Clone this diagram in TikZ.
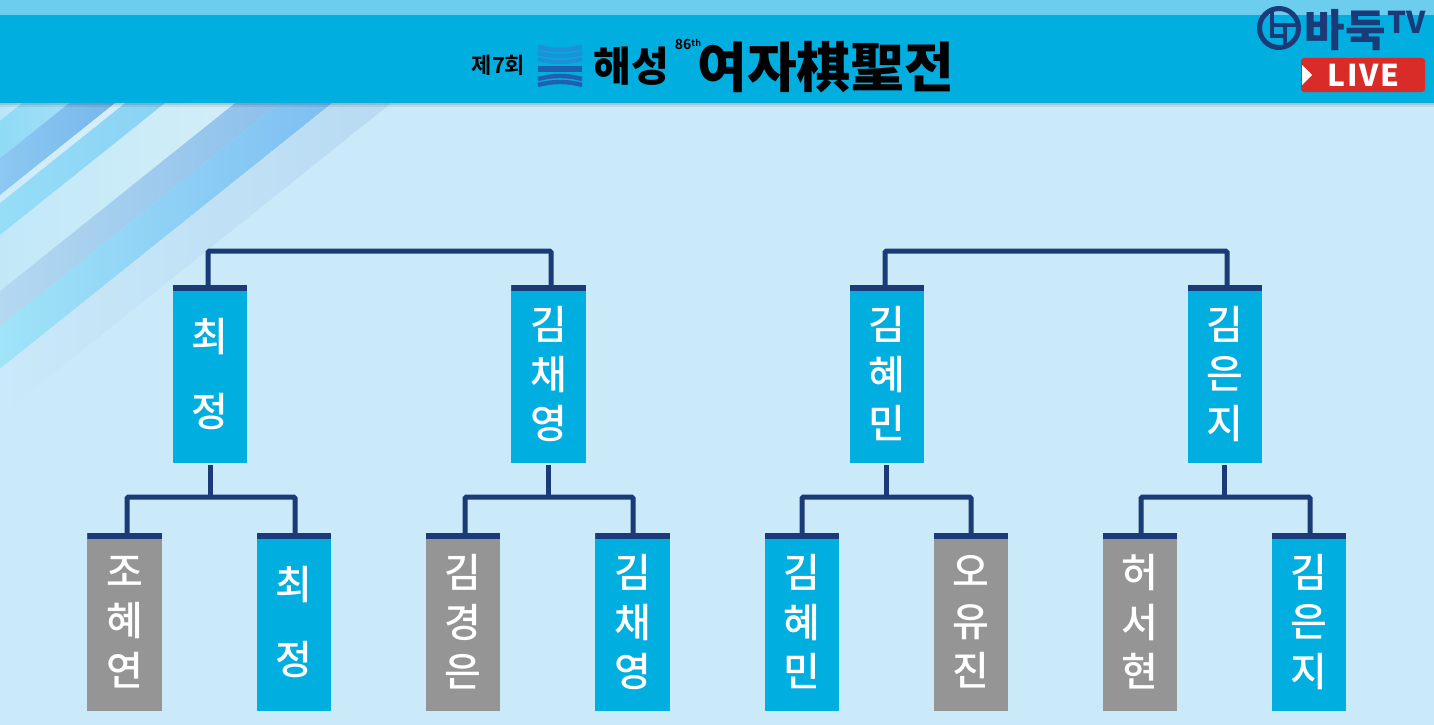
\documentclass[tikz,border=0pt]{standalone}
\usepackage{fontspec}
\setmainfont{Noto Sans CJK KR}
\newfontfamily\krm{Noto Sans CJK KR Medium}
\newfontfamily\krb{Noto Sans CJK KR Black}
\newfontfamily\krbold{Noto Sans CJK KR Bold}
\definecolor{bgc}{HTML}{CAE9F9}
\definecolor{cyanbar}{HTML}{00AEE0}
\definecolor{topband}{HTML}{6CCDEE}
\definecolor{navy}{HTML}{1B3A78}
\definecolor{grayb}{HTML}{959595}
\definecolor{livered}{HTML}{D92B27}
\definecolor{wavelight}{HTML}{1E90D8}
\definecolor{wavedark}{HTML}{1F5FB0}
\tikzset{
  playerbox/.style={minimum width=74.5pt,minimum height=178pt,inner sep=0pt,outer sep=0pt,
    text=white,align=center,
    path picture={\fill[navy] (path picture bounding box.north west) rectangle ([yshift=-5.5pt]path picture bounding box.north east);}},
  won/.style={playerbox,fill=cyanbar},
  lost/.style={playerbox,fill=grayb},
  three/.style={font=\krm\fontsize{40}{49.5}\selectfont},
  two/.style={font=\krm\fontsize{40}{75}\selectfont},
  conn/.style={draw=navy,line width=5pt,rounded corners=1.5pt},
}
\newcommand{\stripe}[4]{\definecolor{sa}{HTML}{#3}\definecolor{sb}{HTML}{#4}\shade[left color=sa,right color=sb] (#1,100) -- (#2,100) -- (0,{100+0.8*#2}) -- (0,{100+0.8*#1}) -- cycle;}
\begin{document}
\begin{tikzpicture}[x=1pt,y=-1pt]
\useasboundingbox (0,0) rectangle (1434,725);
\fill[bgc] (0,0) rectangle (1434,725);
% diagonal stripes
\stripe{0}{26}{B9E6F8}{C9ECF8}
\stripe{26}{73}{8FDAF6}{A5E0F6}
\stripe{73}{119}{8CC8F0}{76B6EC}
\stripe{119}{129}{CDEBF8}{D8EEF8}
\stripe{129}{169}{96DDF7}{8AD2F4}
\stripe{169}{239}{C2E8F8}{D2EEF8}
\stripe{239}{283}{B4D8F0}{8CBFEC}
\stripe{283}{336}{9FE4F8}{7EBDF2}
\stripe{336}{395}{CAE9F9}{B8DAF2}
% header
\fill[black,opacity=.16] (0,103) rectangle (1434,105);
\fill[black,opacity=.07] (0,105) rectangle (1434,107);
\fill[topband] (0,0) rectangle (1434,15);
\fill[cyanbar] (0,15) rectangle (1434,103);
% title
\node[inner sep=0pt,text=black] (t7) at (498.5,65.5) {\krbold\fontsize{22}{22}\selectfont 제7회};
\node[inner sep=0pt,text=black] (t1) at (631,66.5) {\krb\fontsize{41}{41}\selectfont 해성};
\node[inner sep=0pt,text=black] (t86) at (688,44) {\krbold\fontsize{14}{14}\selectfont 86\raisebox{3pt}{\fontsize{9}{9}\selectfont th}};
\node[inner sep=0pt,text=black] (t2) at (826,67) {\krb\fontsize{54}{54}\selectfont 여자棋聖전};
% title emblem
\foreach \yy/\ww in {50/4.6,56/4.6,62/4.2}
  \draw[wavelight,line width=\ww pt] (538,\yy-3) .. controls (552,\yy+1) and (568,\yy+1) .. (582,\yy-3);
\fill[wavedark] (538,66) rectangle (582,71.5);
\foreach \yy/\ww in {76/4.4,82/4.4}
  \draw[wavedark,line width=\ww pt] (538,\yy+3) .. controls (552,\yy-1) and (568,\yy-1) .. (582,\yy+3);
% BadukTV logo
\draw[navy,line width=5pt] (1279,28) circle (19.5);
\draw[navy,line width=3.5pt] (1272,11) -- (1272,36) -- (1284,36);
\draw[navy,line width=3.5pt] (1272,25) -- (1298,25);
\draw[navy,line width=3.5pt] (1285,25) -- (1285,44);
\node[inner sep=0pt,text=navy] (bd) at (1345,30) {\krb\fontsize{44}{44}\selectfont 바둑};
\node[inner sep=0pt,text=navy] (tv) at (1406.5,22) {\krb\fontsize{30}{30}\selectfont TV};
\fill[livered,rounded corners=3pt] (1301,58) rectangle (1425,92);
\fill[white] (1302,65) -- (1312,75) -- (1302,85) -- cycle;
\node[inner sep=0pt,text=white] (lv) at (1363.5,75) {\krb\fontsize{30}{30}\selectfont L\kern1.5pt I\kern1.5pt V\kern1.5pt E};
% semifinal boxes
\node[won,two] (s1) at (210,374) {최\\정};
\node[won,three] (s2) at (548.5,374) {김\\채\\영};
\node[won,three] (s3) at (887,374) {김\\혜\\민};
\node[won,three] (s4) at (1225,374) {김\\은\\지};
% quarterfinal boxes
\node[lost,three] (q1) at (124.5,622) {조\\혜\\연};
\node[won,two] (q2) at (294,622) {최\\정};
\node[lost,three] (q3) at (463,622) {김\\경\\은};
\node[won,three] (q4) at (632.5,622) {김\\채\\영};
\node[won,three] (q5) at (802,622) {김\\혜\\민};
\node[lost,three] (q6) at (971,622) {오\\유\\진};
\node[lost,three] (q7) at (1140,622) {허\\서\\현};
\node[won,three] (q8) at (1309,622) {김\\은\\지};
% connectors
\coordinate (top) at (0,251);
\draw[conn] ([xshift=-2pt]s1.north) -- ([xshift=-2pt]s1.north |- top) -- ([xshift=2.5pt]s2.north |- top) -- ([xshift=2.5pt]s2.north);
\draw[conn] ([xshift=-2pt]s3.north) -- ([xshift=-2pt]s3.north |- top) -- ([xshift=2pt]s4.north |- top) -- ([xshift=2pt]s4.north);
\foreach \s/\l/\r/\a/\b/\c in {s1/q1/q2/2.5/1/0,s2/q3/q4/2/0.5/-0.5,s3/q5/q6/0/0/-1,s4/q7/q8/1/1/-1}{
  \coordinate (j\s) at ([yshift=-34pt]\s.south);
  \draw[conn] ([xshift=\a pt]\l.north) -- ([xshift=\a pt]\l.north |- j\s) -- ([xshift=\b pt]\r.north |- j\s) -- ([xshift=\b pt]\r.north);
  \draw[conn] ([xshift=\c pt,yshift=-2pt]\s.south) -- ([xshift=\c pt]j\s);
}
\end{tikzpicture}
\end{document}
